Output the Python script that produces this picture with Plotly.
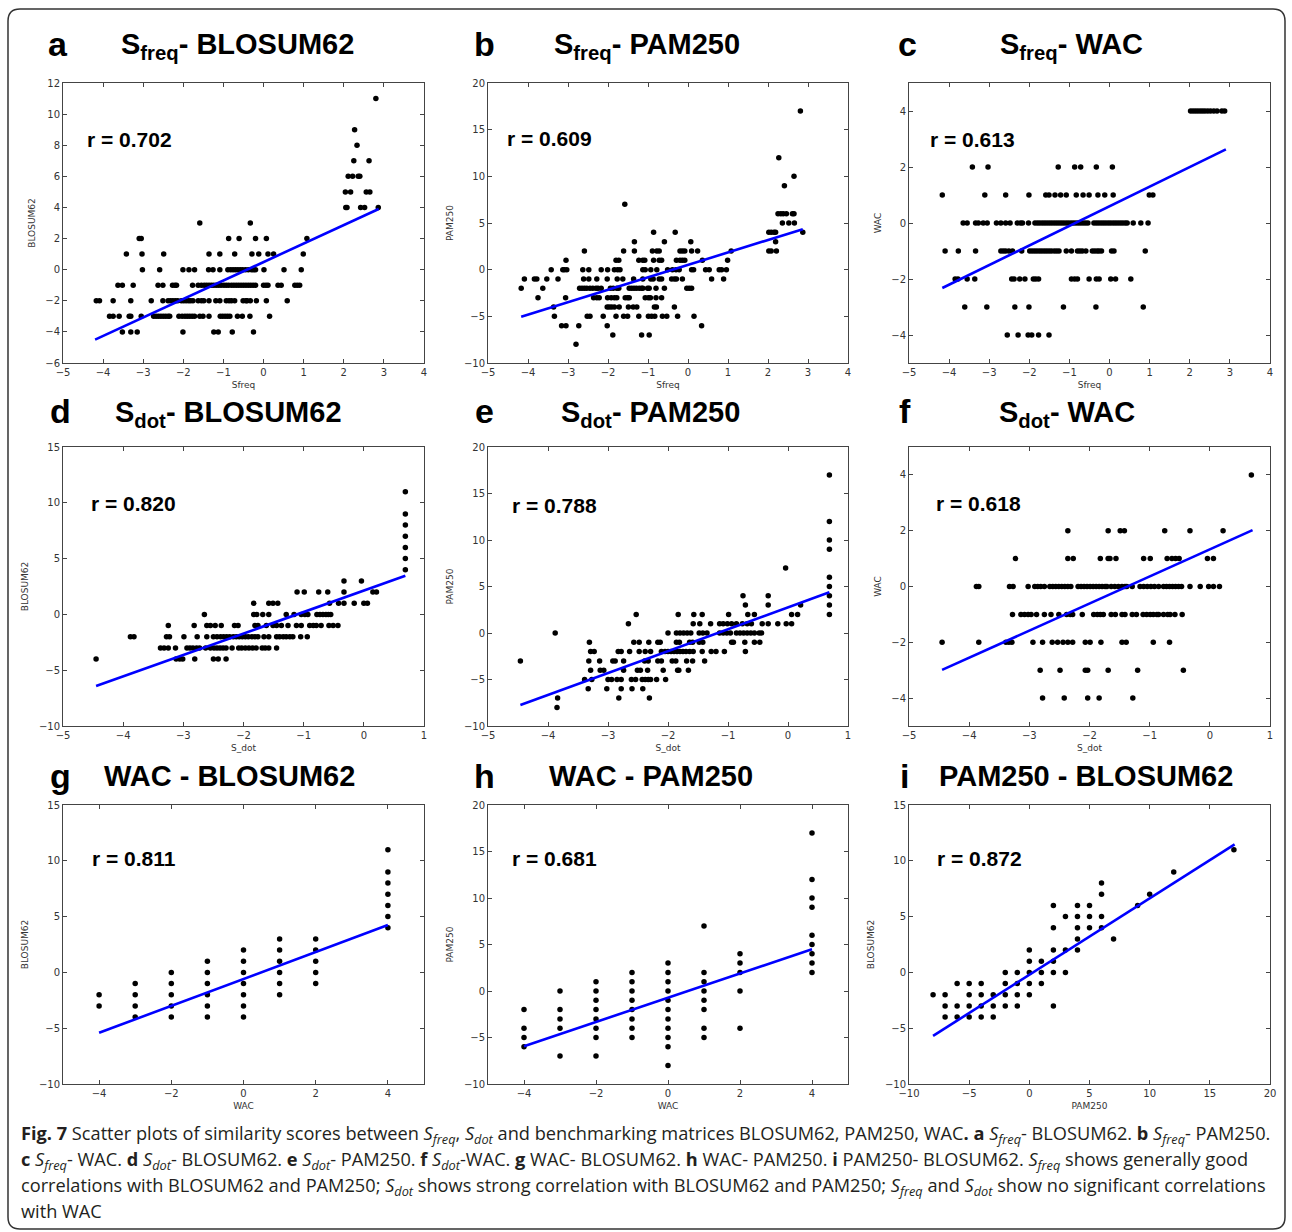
import plotly.graph_objects as go

# ---------------- data ----------------
# Panel a: Sfreq vs BLOSUM62 (grouped by BLOSUM62 level)
a_levels = [11, 9, 8, 7, 6, 5, 4, 3, 2, 1, 0, -1, -2, -3, -4]
a_sfreq = [
    [2.80], [2.27], [2.33], [2.25, 2.63], [2.11, 2.22, 2.36, 2.40],
    [2.04, 2.17, 2.56, 2.65], [2.05, 2.08, 2.42, 2.52, 2.86], [-1.59, -0.33],
    [-3.10, -3.05, -0.87, -0.61, -0.20, 0.07, 1.08],
    [-3.42, -3.03, -2.49, -1.36, -1.09, -0.72, -0.29, -0.12, 0.11, 0.25, 0.99],
    [-3.02, -2.59, -2.01, -1.86, -1.72, -1.37, -1.26, -1.09, -0.89, -0.82, -0.76, -0.70, -0.64,
     -0.58, -0.52, -0.45, -0.38, -0.30, -0.25, -0.20, 0.01, 0.51, 0.94],
    [-3.63, -3.52, -3.25, -2.63, -2.51, -2.27, -2.21, -2.17, -1.77, -1.63, -1.55, -1.48, -1.42,
     -1.36, -1.30, -1.24, -1.18, -1.12, -1.06, -0.99, -0.93, -0.87, -0.80, -0.74, -0.68, -0.62,
     -0.56, -0.50, -0.44, -0.38, -0.32, -0.26, -0.20, 0.00, 0.06, 0.11, 0.36, 0.44, 0.78, 0.84, 0.90],
    [-4.17, -4.09, -3.75, -3.31, -2.80, -2.51, -2.38, -2.32, -2.26, -2.20, -2.14, -2.05, -1.99,
     -1.93, -1.87, -1.82, -1.76, -1.63, -1.55, -1.49, -1.36, -1.19, -1.09, -0.93, -0.86, -0.80,
     -0.72, -0.51, -0.44, -0.41, -0.33, -0.18, 0.07, 0.59],
    [-3.84, -3.75, -3.60, -3.35, -3.31, -3.05, -2.74, -2.68, -2.62, -2.56, -2.50, -2.44, -2.38,
     -2.34, -2.11, -2.03, -1.96, -1.90, -1.84, -1.78, -1.72, -1.59, -1.51, -1.36, -1.08, -1.02,
     -0.96, -0.90, -0.84, -0.65, -0.53, -0.34, 0.15],
    [-3.52, -3.31, -3.15, -2.01, -1.24, -1.13, -0.78, -0.25],
]
a_fit_x = [-4.20, 2.87]
a_fit_y = [-4.50, 3.90]

# Panel b: Sfreq vs PAM250
b_levels = [17, 12, 10, 9, 7, 6, 5, 4, 3, 2, 1, 0, -1, -2, -3, -4, -5, -6, -7, -8]
b_sfreq = [
    [2.81], [2.27], [2.65], [2.41], [-1.58],
    [2.25, 2.32, 2.38, 2.46, 2.61, 2.65], [2.36, 2.52, 2.66],
    [-0.86, -0.32, 2.02, 2.08, 2.15, 2.19, 2.87],
    [-1.34, -0.59, 0.07, 2.19],
    [-2.59, -1.61, -1.34, -0.89, -0.78, -0.72, -0.20, -0.14, -0.08, 0.09, 0.24, 1.08, 2.02, 2.08, 2.21],
    [-3.05, -1.80, -1.73, -1.23, -1.13, -1.08, -0.86, -0.72, -0.66, -0.29, -0.20, -0.14, -0.08, 0.36, 0.99],
    [-3.42, -3.13, -3.09, -3.03, -2.63, -2.48, -2.17, -2.01, -1.84, -1.76, -1.70, -1.13, -1.07,
     -0.93, -0.78, -0.51, -0.39, -0.30, -0.22, 0.09, 0.14, 0.44, 0.53, 0.78, 0.84, 0.96],
    [-4.09, -3.84, -3.78, -3.53, -3.25, -2.61, -2.48, -2.28, -2.02, -1.77, -1.63, -1.36, -1.13,
     -0.93, -0.87, -0.72, -0.66, -0.41, -0.34, -0.29, -0.14, 0.59, 0.89],
    [-4.17, -3.63, -2.71, -2.65, -2.59, -2.53, -2.45, -2.38, -2.30, -2.25, -2.17, -1.94, -1.87,
     -1.78, -1.73, -1.47, -1.41, -1.35, -1.29, -1.22, -1.16, -1.13, -1.01, -0.97, -0.80, -0.59,
     -0.03, 0.03, 0.09],
    [-3.75, -3.06, -2.36, -2.28, -2.22, -2.01, -1.92, -1.84, -1.78, -1.57, -1.51, -1.47, -1.07,
     -0.99, -0.94, -0.80, -0.66],
    [-3.36, -2.02, -1.97, -1.91, -1.84, -1.72, -1.49, -1.37, -1.28, -0.84, -0.79, -0.34],
    [-3.34, -2.52, -2.45, -2.12, -1.80, -1.61, -1.51, -1.23, -0.99, -0.91, -0.83, -0.64, -0.53, -0.26, 0.15],
    [-3.16, -3.05, -2.73, -2.02, 0.34],
    [-1.88, -1.16, -0.97],
    [-2.80],
]
b_fit_x = [-4.17, 2.87]
b_fit_y = [-5.05, 4.34]

# Panel c: Sfreq vs WAC
c_levels = [4, 2, 1, 0, -1, -2, -3, -4]
c_sfreq = [
    [2.02, 2.08, 2.14, 2.20, 2.26, 2.32, 2.38, 2.45, 2.52, 2.60, 2.68, 2.80, 2.87],
    [-3.42, -3.03, -1.28, -0.87, -0.72, -0.33, 0.07],
    [-4.17, -3.11, -2.59, -2.01, -1.59, -1.51, -1.36, -1.22, -1.08, -0.83, -0.66, -0.51, -0.29,
     -0.12, 0.09, 0.99, 1.08],
    [-3.65, -3.55, -3.34, -3.27, -3.15, -3.05, -2.82, -2.71, -2.59, -2.48, -2.30, -2.22, -2.17,
     -2.02, -1.86, -1.80, -1.74, -1.68, -1.62, -1.56, -1.50, -1.44, -1.38, -1.32, -1.26, -1.20,
     -1.14, -1.08, -1.02, -0.96, -0.90, -0.84, -0.78, -0.72, -0.66, -0.60, -0.54, -0.39, -0.33,
     -0.27, -0.21, -0.15, -0.09, -0.03, 0.03, 0.09, 0.15, 0.21, 0.27, 0.33, 0.39, 0.44, 0.59, 0.78, 0.96],
    [-4.10, -3.77, -3.34, -2.71, -2.65, -2.59, -2.51, -2.42, -2.19, -1.99, -1.93, -1.87, -1.81,
     -1.75, -1.69, -1.63, -1.57, -1.51, -1.45, -1.38, -1.32, -1.26, -1.08, -0.95, -0.80, -0.74,
     -0.68, -0.59, -0.43, -0.37, -0.31, -0.26, -0.20, 0.05, 0.11, 0.89],
    [-3.85, -3.78, -3.55, -3.36, -2.44, -2.38, -2.24, -2.11, -1.90, -1.84, -1.77, -0.95, -0.87,
     -0.80, -0.51, -0.33, -0.26, 0.03, 0.15, 0.53],
    [-3.61, -3.06, -2.36, -2.01, -1.15, -0.34, 0.84],
    [-2.55, -2.28, -2.03, -1.94, -1.77, -1.51],
]
c_fit_x = [-4.17, 2.90]
c_fit_y = [-2.32, 2.63]

# Panel d: S_dot vs BLOSUM62
d_levels = [11, 9, 8, 7, 6, 5, 4, 3, 2, 1, 0, -1, -2, -3, -4]
d_sdot = [
    [0.69], [0.69], [0.69], [0.69], [0.69], [0.69], [0.69],
    [-0.33, -0.04],
    [-1.11, -0.99, -0.75, -0.60, -0.33, 0.15, 0.21],
    [-1.83, -1.58, -1.51, -1.43, -0.57, -0.42, -0.33, -0.16, 0.00, 0.06],
    [-2.65, -1.83, -1.78, -1.68, -1.58, -1.29, -1.16, -1.04, -0.98, -0.93, -0.78, -0.73, -0.68,
     -0.63, -0.59, -0.55],
    [-3.25, -2.82, -2.61, -2.55, -2.47, -2.37, -2.15, -2.09, -1.81, -1.76, -1.62, -1.51, -1.45,
     -1.37, -1.26, -1.12, -1.04, -0.90, -0.84, -0.79, -0.71, -0.58, -0.51, -0.43],
    [-3.88, -3.82, -3.28, -3.23, -2.99, -2.77, -2.61, -2.50, -2.44, -2.38, -2.33, -2.28, -2.23,
     -2.17, -2.12, -2.07, -2.02, -1.97, -1.92, -1.86, -1.81, -1.76, -1.66, -1.58, -1.45, -1.40,
     -1.34, -1.29, -1.23, -1.18, -1.05, -0.94],
    [-3.38, -3.32, -3.25, -3.13, -2.94, -2.89, -2.84, -2.78, -2.73, -2.63, -2.55, -2.49, -2.44,
     -2.39, -2.34, -2.29, -2.19, -2.08, -2.03, -1.97, -1.91, -1.85, -1.79, -1.69, -1.64, -1.58, -1.45],
    [-4.45, -3.12, -3.06, -3.01, -2.81, -2.50, -2.42, -2.29],
]
d_fit_x = [-4.45, 0.69]
d_fit_y = [-6.42, 3.46]

# Panel e: S_dot vs PAM250
e_levels = [17, 12, 10, 9, 7, 6, 5, 4, 3, 2, 1, 0, -1, -2, -3, -4, -5, -6, -7, -8]
e_sdot = [
    [0.69], [0.69], [0.69], [0.69], [-0.04], [0.69], [0.69],
    [-0.75, -0.33, 0.69],
    [-0.71, -0.33, 0.21, 0.69],
    [-2.53, -1.83, -1.57, -1.43, -0.99, -0.67, -0.56, 0.06, 0.16, 0.69],
    [-2.66, -1.58, -1.47, -1.29, -1.14, -1.08, -1.01, -0.94, -0.86, -0.76, -0.68, -0.61, -0.43,
     -0.33, -0.17, -0.03, 0.06],
    [-3.88, -2.00, -1.86, -1.80, -1.74, -1.68, -1.62, -1.48, -1.42, -1.35, -1.14, -1.08, -1.02,
     -0.96, -0.86, -0.80, -0.74, -0.68, -0.62, -0.56, -0.48, -0.44],
    [-3.31, -2.57, -2.48, -2.32, -2.17, -2.13, -1.86, -1.81, -1.64, -1.59, -1.48, -1.42, -0.94,
     -0.91, -0.72, -0.56, -0.47],
    [-3.29, -3.23, -2.83, -2.78, -2.64, -2.48, -2.38, -2.29, -2.11, -2.05, -2.00, -1.95, -1.90,
     -1.85, -1.80, -1.75, -1.70, -1.64, -1.58, -1.43, -1.28, -1.20, -1.06, -0.71],
    [-4.46, -3.32, -3.14, -2.92, -2.88, -2.74, -2.39, -2.33, -2.17, -2.11, -1.93, -1.87, -1.69,
     -1.59, -1.39],
    [-3.29, -3.13, -3.07, -2.74, -2.51, -2.46, -2.34, -2.08, -1.84, -1.82, -1.66],
    [-3.39, -3.27, -3.00, -2.94, -2.85, -2.78, -2.61, -2.54, -2.43, -2.38, -2.33, -2.29, -2.19, -2.04],
    [-3.33, -3.02, -2.78, -2.60, -2.42],
    [-3.84, -2.82, -2.31],
    [-3.85],
]
e_fit_x = [-4.46, 0.69]
e_fit_y = [-7.75, 4.38]

# Panel f: S_dot vs WAC
f_levels = [4, 2, 1, 0, -1, -2, -3, -4]
f_sdot = [
    [0.69],
    [-2.36, -1.69, -1.49, -1.42, -0.75, -0.33, 0.22],
    [-3.23, -2.36, -2.27, -1.82, -1.69, -1.66, -1.56, -1.10, -0.99, -0.71, -0.63, -0.57, -0.51, -0.04, 0.06],
    [-3.88, -3.84, -3.33, -3.27, -3.02, -2.91, -2.86, -2.81, -2.75, -2.66, -2.61, -2.56, -2.51,
     -2.46, -2.41, -2.36, -2.31, -2.19, -2.14, -2.09, -2.04, -1.99, -1.94, -1.89, -1.84, -1.79,
     -1.74, -1.71, -1.64, -1.58, -1.52, -1.46, -1.41, -1.38, -1.29, -1.16, -1.10, -1.04, -0.98,
     -0.92, -0.85, -0.77, -0.72, -0.67, -0.62, -0.57, -0.52, -0.47, -0.33, -0.16, -0.02, 0.06, 0.16],
    [-3.28, -3.14, -3.08, -3.02, -2.97, -2.88, -2.75, -2.64, -2.51, -2.38, -2.32, -2.28, -2.12,
     -1.93, -1.87, -1.82, -1.77, -1.64, -1.57, -1.46, -1.41, -1.29, -1.22, -1.11, -1.05, -0.99,
     -0.94, -0.88, -0.85, -0.77, -0.70, -0.66, -0.58, -0.46],
    [-4.45, -3.84, -3.39, -3.34, -3.29, -2.94, -2.78, -2.62, -2.53, -2.44, -2.36, -2.28, -2.07,
     -1.99, -1.81, -1.46, -1.39, -0.94, -0.67],
    [-2.82, -2.49, -2.07, -2.03, -1.69, -1.20, -0.44],
    [-2.78, -2.42, -2.03, -1.84, -1.28],
]
f_fit_x = [-4.45, 0.71]
f_fit_y = [-2.99, 2.02]

# Panel g: WAC vs BLOSUM62 (grouped by WAC value)
g_wac = [-4, -3, -2, -1, 0, 1, 2, 4]
g_blosum = [
    [-2, -3], [-1, -2, -3, -4], [0, -1, -2, -3, -4], [1, 0, -1, -2, -3, -4],
    [2, 1, 0, -1, -2, -3, -4], [3, 2, 1, 0, -1, -2], [3, 2, 1, 0, -1],
    [11, 9, 8, 7, 6, 5, 4],
]
g_fit_x = [-4, 4]
g_fit_y = [-5.41, 4.24]

# Panel h: WAC vs PAM250
h_wac = [-4, -3, -2, -1, 0, 1, 2, 4]
h_pam = [
    [-2, -4, -5, -6], [0, -2, -3, -4, -7], [1, 0, -1, -2, -3, -4, -5, -7],
    [2, 1, 0, -1, -2, -3, -4, -5], [3, 2, 1, 0, -1, -2, -3, -4, -5, -6, -8],
    [7, 2, 1, 0, -1, -2, -4, -5], [4, 3, 2, 0, -4], [17, 12, 10, 9, 6, 5, 4, 3, 2],
]
h_fit_x = [-4, 4]
h_fit_y = [-5.93, 4.48]

# Panel i: PAM250 vs BLOSUM62
i_pam = [-8, -7, -6, -5, -4, -3, -2, -1, 0, 1, 2, 3, 4, 5, 6, 7, 9, 10, 12, 17]
i_blosum = [
    [-2], [-2, -3, -4], [-1, -3, -4], [-1, -2, -3, -4], [-1, -2, -3, -4], [-2, -3, -4],
    [0, -1, -2, -3], [0, -1, -2, -3], [2, 1, 0, -1, -2], [1, 0, -1],
    [6, 4, 2, 1, 0, -3], [5, 2, 0], [6, 5, 4, 3, 2], [6, 5, 4], [8, 7, 5, 4],
    [3], [6], [7], [9], [11],
]
i_fit_x = [-8.0, 17.06]
i_fit_y = [-5.69, 11.48]

panel_letters = ["a", "b", "c", "d", "e", "f", "g", "h", "i"]
panel_titles = [
    "S<sub>freq</sub>- BLOSUM62", "S<sub>freq</sub>- PAM250", "S<sub>freq</sub>- WAC",
    "S<sub>dot</sub>- BLOSUM62", "S<sub>dot</sub>- PAM250", "S<sub>dot</sub>- WAC",
    "WAC - BLOSUM62", "WAC - PAM250", "PAM250 - BLOSUM62",
]
r_labels = ["r = 0.702", "r = 0.609", "r = 0.613", "r = 0.820", "r = 0.788",
            "r = 0.618", "r = 0.811", "r = 0.681", "r = 0.872"]
x_titles = ["Sfreq", "Sfreq", "Sfreq", "S_dot", "S_dot", "S_dot", "WAC", "WAC", "PAM250"]
y_titles = ["BLOSUM62", "PAM250", "WAC", "BLOSUM62", "PAM250", "WAC", "BLOSUM62", "PAM250", "BLOSUM62"]

caption_lines = [
    "<b>Fig. 7</b> Scatter plots of similarity scores between <i>S<sub>freq</sub></i>, <i>S<sub>dot</sub></i> and "
    "benchmarking matrices BLOSUM62, PAM250, WAC<b>.</b> <b>a</b> <i>S<sub>freq</sub></i>- BLOSUM62. "
    "<b>b</b> <i>S<sub>freq</sub></i>- PAM250.",
    "<b>c</b> <i>S<sub>freq</sub></i>- WAC. <b>d</b> <i>S<sub>dot</sub></i>- BLOSUM62. <b>e</b> "
    "<i>S<sub>dot</sub></i>- PAM250. <b>f</b> <i>S<sub>dot</sub></i>-WAC. <b>g</b> WAC- BLOSUM62. "
    "<b>h</b> WAC- PAM250. <b>i</b> PAM250- BLOSUM62. <i>S<sub>freq</sub></i> shows generally good",
    "correlations with BLOSUM62 and PAM250; <i>S<sub>dot</sub></i> shows strong correlation with "
    "BLOSUM62 and PAM250; <i>S<sub>freq</sub></i> and <i>S<sub>dot</sub></i> show no significant correlations",
    "with WAC",
]


def by_level(levels, groups):
    xs, ys = [], []
    for lv, g in zip(levels, groups):
        for v in g:
            xs.append(v)
            ys.append(lv)
    return xs, ys


def by_column(cols, groups):
    xs, ys = [], []
    for c, g in zip(cols, groups):
        for v in g:
            xs.append(c)
            ys.append(v)
    return xs, ys


points = [
    by_level(a_levels, a_sfreq), by_level(b_levels, b_sfreq), by_level(c_levels, c_sfreq),
    by_level(d_levels, d_sdot), by_level(e_levels, e_sdot), by_level(f_levels, f_sdot),
    by_column(g_wac, g_blosum), by_column(h_wac, h_pam), by_column(i_pam, i_blosum),
]
fits = [(a_fit_x, a_fit_y), (b_fit_x, b_fit_y), (c_fit_x, c_fit_y), (d_fit_x, d_fit_y),
        (e_fit_x, e_fit_y), (f_fit_x, f_fit_y), (g_fit_x, g_fit_y), (h_fit_x, h_fit_y),
        (i_fit_x, i_fit_y)]

# ---------------- layout / styling ----------------
W, H = 1292, 1232
COLS = [(63, 424), (488, 848), (909, 1270)]
ROWS = [(83, 363), (447, 726), (805, 1084)]

xranges = [[-5, 4]] * 3 + [[-5, 1]] * 3 + [[-5, 5], [-5, 5], [-10, 20]]
yranges = [[-6, 12], [-10, 20], [-5, 5], [-10, 15], [-10, 20], [-5, 5],
           [-10, 15], [-10, 20], [-10, 15]]
xticks = [list(range(-5, 5))] * 3 + [list(range(-5, 2))] * 3 + \
         [[-4, -2, 0, 2, 4], [-4, -2, 0, 2, 4], [-10, -5, 0, 5, 10, 15, 20]]
yticks = [list(range(-6, 13, 2)), list(range(-10, 21, 5)), [-4, -2, 0, 2, 4],
          list(range(-10, 16, 5)), list(range(-10, 21, 5)), [-4, -2, 0, 2, 4],
          list(range(-10, 16, 5)), list(range(-10, 21, 5)), list(range(-10, 16, 5))]
r_pos = [(0.060, 0.797), (0.046, 0.803), (0.054, 0.800), (0.072, 0.797), (0.060, 0.790),
         (0.069, 0.796), (0.074, 0.810), (0.060, 0.810), (0.071, 0.810)]
letter_px = [(58, 44), (484, 44), (907, 44), (60, 411), (484, 411), (905, 411),
             (60, 776), (484, 776), (904, 776)]
title_px = [(237, 46), (647, 46), (1071, 46), (228, 414), (650, 414), (1067, 414),
            (229, 776), (651, 776), (1086, 776)]

TICKFONT = dict(family="DejaVu Sans", size=10, color="#333333")
AXTITLEFONT = dict(family="DejaVu Sans", size=9, color="#333333")
BOLD = "Liberation Sans, Arial, sans-serif"

fig = go.Figure()
layout = dict(
    width=W, height=H, margin=dict(l=0, r=0, t=0, b=0, autoexpand=False),
    paper_bgcolor="white", plot_bgcolor="white", showlegend=False,
)
annotations = []

for k in range(9):
    n = "" if k == 0 else str(k + 1)
    r, c = divmod(k, 3)
    x0, x1 = COLS[c]
    y0, y1 = ROWS[r]
    px, py = points[k]
    fig.add_trace(go.Scatter(x=px, y=py, mode="markers", xaxis="x" + n, yaxis="y" + n,
                             marker=dict(color="black", size=5.5, line=dict(width=0)),
                             hoverinfo="skip"))
    fx, fy = fits[k]
    fig.add_trace(go.Scatter(x=fx, y=fy, mode="lines", xaxis="x" + n, yaxis="y" + n,
                             line=dict(color="#0000ff", width=2.6), hoverinfo="skip"))
    common = dict(showgrid=False, zeroline=False, showline=True, linecolor="#444444",
                  linewidth=1, mirror="allticks", ticks="inside", ticklen=4, tickwidth=1,
                  tickcolor="#444444", tickfont=TICKFONT, automargin=False)
    layout["xaxis" + n] = dict(
        common, domain=[x0 / W, x1 / W], anchor="y" + n, range=xranges[k],
        tickmode="array", tickvals=xticks[k],
        title=dict(text=x_titles[k], font=AXTITLEFONT, standoff=4),
    )
    layout["yaxis" + n] = dict(
        common, domain=[1 - y1 / H, 1 - y0 / H], anchor="x" + n, range=yranges[k],
        tickmode="array", tickvals=yticks[k],
        title=dict(text=y_titles[k], font=AXTITLEFONT, standoff=8),
    )
    annotations.append(dict(
        text="<b>" + r_labels[k] + "</b>", xref="x" + n + " domain", yref="y" + n + " domain",
        x=r_pos[k][0], y=r_pos[k][1], xanchor="left", yanchor="middle", showarrow=False,
        font=dict(family=BOLD, size=21, color="black"),
    ))
    lx, ly = letter_px[k]
    annotations.append(dict(
        text="<b>" + panel_letters[k] + "</b>", xref="paper", yref="paper",
        x=lx / W, y=1 - ly / H, xanchor="center", yanchor="middle", showarrow=False,
        font=dict(family=BOLD, size=34, color="black"),
    ))
    tx, ty = title_px[k]
    annotations.append(dict(
        text="<b>" + panel_titles[k] + "</b>", xref="paper", yref="paper",
        x=tx / W, y=1 - ty / H, xanchor="center", yanchor="middle", showarrow=False,
        font=dict(family=BOLD, size=29, color="black"),
    ))

cap_y = [1134, 1160, 1186, 1211]
for line, yy in zip(caption_lines, cap_y):
    annotations.append(dict(
        text=line, xref="paper", yref="paper", x=19 / W, y=1 - yy / H,
        xanchor="left", yanchor="middle", showarrow=False, align="left",
        font=dict(family="Open Sans", size=18.2, color="#231f20"),
    ))

layout["annotations"] = annotations

# rounded outer frame
L, T, R, B, rad = 8, 9, 1285, 1229, 12
def px2(xp, yp):
    return f"{xp / W:.5f},{1 - yp / H:.5f}"
path = (f"M {px2(L + rad, T)} L {px2(R - rad, T)} Q {px2(R, T)} {px2(R, T + rad)} "
        f"L {px2(R, B - rad)} Q {px2(R, B)} {px2(R - rad, B)} "
        f"L {px2(L + rad, B)} Q {px2(L, B)} {px2(L, B - rad)} "
        f"L {px2(L, T + rad)} Q {px2(L, T)} {px2(L + rad, T)} Z")
layout["shapes"] = [dict(type="path", xref="paper", yref="paper", path=path,
                         line=dict(color="#333333", width=1.5))]

fig.update_layout(**layout)
fig.write_html("out.html", config={"displayModeBar": False},
               post_script="document.body.style.margin='0';document.body.style.overflow='hidden';")
